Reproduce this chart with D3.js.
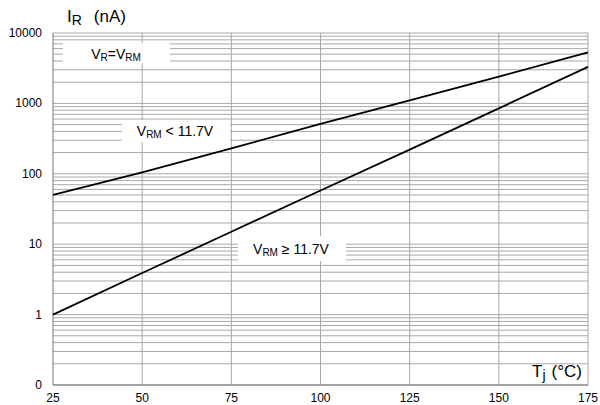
<!DOCTYPE html>
<html><head><meta charset="utf-8">
<script src="https://cdn.jsdelivr.net/npm/d3@7"></script>
<style>body{margin:0;background:#fff}svg{font-family:"Liberation Sans",Arial,sans-serif}</style>
</head><body><svg id="c" width="600" height="405"></svg>
<script>
const temps = [25, 50, 75, 100, 125, 150, 175];
const lowVrm = [50, 105, 230, 510, 1100, 2400, 5300];
const highVrm = [1, 3.9, 15, 58, 220, 850, 3300];
const xTicks = [25, 50, 75, 100, 125, 150, 175];
const yTicks = [0.1, 1, 10, 100, 1000, 10000];
const yTickLabels = ["0", "1", "10", "100", "1000", "10000"];

const svg = d3.select("#c");
const L = 53, R = 588, T = 33, B = 385;
const x = d3.scaleLinear().domain([25, 175]).range([L, R]);
const y = d3.scaleLog().domain([0.1, 10000]).range([B, T]);

const grid = svg.append("g");
const minor = [];
for (let e = -1; e < 4; e++) for (let m = 1; m <= 9; m++) minor.push(m * Math.pow(10, e));
minor.push(10000);
grid.selectAll("line.h").data(minor).join("line")
  .attr("x1", L).attr("x2", R).attr("y1", d => y(d)).attr("y2", d => y(d))
  .attr("stroke", "#a8a8a8").attr("stroke-width", 1);
grid.selectAll("line.v").data(xTicks.slice(1, -1)).join("line")
  .attr("x1", d => x(d)).attr("x2", d => x(d)).attr("y1", T).attr("y2", B)
  .attr("stroke", "#a8a8a8").attr("stroke-width", 1);
svg.append("line").attr("x1", R).attr("x2", R).attr("y1", T).attr("y2", B).attr("stroke", "#a8a8a8");

const boxes = [
  {x0: 63, x1: 170, y0: 43, y1: 63},
  {x0: 122, x1: 230, y0: 120, y1: 142},
  {x0: 238, x1: 346, y0: 236, y1: 261}
];
svg.selectAll("rect.box").data(boxes).join("rect")
  .attr("x", d => d.x0).attr("y", d => d.y0).attr("width", d => d.x1 - d.x0).attr("height", d => d.y1 - d.y0)
  .attr("fill", "#fff");

svg.append("line").attr("x1", L).attr("x2", L).attr("y1", T).attr("y2", B).attr("stroke", "#777");
svg.append("line").attr("x1", L).attr("x2", R).attr("y1", B).attr("y2", B).attr("stroke", "#777");

const line = d3.line().x((d, i) => x(temps[i])).y(d => y(d));
svg.append("path").attr("d", line(lowVrm)).attr("fill", "none").attr("stroke", "#000").attr("stroke-width", 1.8);
svg.append("path").attr("d", line(highVrm)).attr("fill", "none").attr("stroke", "#000").attr("stroke-width", 1.8);

svg.selectAll("text.yt").data(yTicks).join("text")
  .attr("x", 42).attr("y", d => y(d) + 4).attr("text-anchor", "end")
  .attr("font-size", 12).text((d, i) => yTickLabels[i]);
svg.selectAll("text.xt").data(xTicks).join("text")
  .attr("x", d => x(d)).attr("y", 402).attr("text-anchor", "middle")
  .attr("font-size", 12).text(d => d);

const yt = svg.append("text").attr("x", 67).attr("y", 22).attr("font-size", 17);
yt.append("tspan").text("I");
yt.append("tspan").attr("font-size", 14).attr("dy", 3).text("R");
yt.append("tspan").attr("dy", -3).attr("font-size", 17).attr("dx", 12).text("(nA)");

const xt = svg.append("text").attr("x", 582).attr("y", 377).attr("font-size", 17).attr("text-anchor", "end");
xt.append("tspan").text("T");
xt.append("tspan").attr("font-size", 14).attr("dy", 3).text("j");
xt.append("tspan").attr("dy", -3).attr("font-size", 17).attr("dx", 6).text("(°C)");

function ann(px, py, parts) {
  const t = svg.append("text").attr("x", px).attr("y", py).attr("font-size", 14).attr("text-anchor", "middle");
  parts.forEach(p => {
    const s = t.append("tspan").text(p[0]);
    if (p[1] === "sub") s.attr("font-size", 10).attr("dy", 2);
    if (p[1] === "up") s.attr("dy", -2);
  });
}
ann(116, 59, [["V"], ["R", "sub"], ["=V", "up"], ["RM", "sub"]]);
ann(175, 136, [["V"], ["RM", "sub"], [" < 11.7V", "up"]]);
ann(291, 254, [["V"], ["RM", "sub"], [" ≥ 11.7V", "up"]]);
</script></body></html>
